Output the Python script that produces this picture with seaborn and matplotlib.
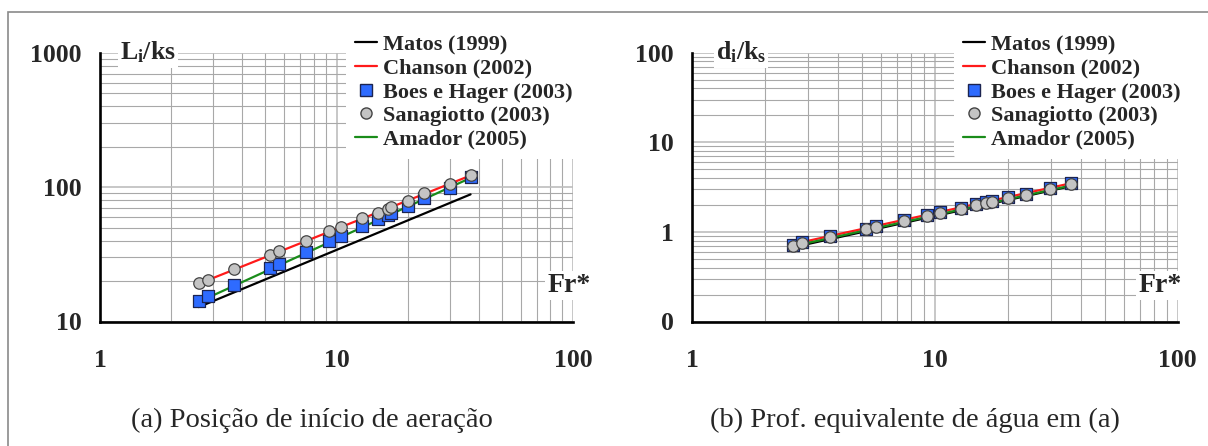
import numpy as np
import pandas as pd
import seaborn as sns
import matplotlib
matplotlib.use("Agg")
import matplotlib.pyplot as plt
from matplotlib.lines import Line2D
from matplotlib.patches import Rectangle
from matplotlib.ticker import LogLocator, FixedLocator, FixedFormatter, NullFormatter

# ---------------- data ----------------
fr = [2.61, 2.85, 3.70, 5.25, 5.72, 7.39, 9.25, 10.45, 12.8, 14.9, 16.5, 17.0, 20.1, 23.5, 30.0, 36.8]
li_boes = [14.3, 15.4, 18.8, 24.9, 26.9, 32.8, 39.6, 43.4, 51.3, 57.5, 62.3, 64.4, 72.0, 82.8, 98.9, 118.0]
li_sana = [19.2, 20.3, 24.5, 31.0, 33.2, 39.9, 46.8, 50.7, 58.5, 64.5, 69.0, 71.0, 79.4, 89.7, 105.0, 122.0]

matos_li_x = [2.61, 36.8]
matos_li_y = [12.8, 88.3]
chanson_li_x = [2.85, 36.8]
chanson_li_y = [20.3, 122.0]
amador_li_x = [2.85, 36.8]
amador_li_y = [15.0, 117.0]

fr_b = [2.61, 2.84, 3.70, 5.21, 5.70, 7.42, 9.25, 10.5, 12.8, 14.8, 16.3, 17.1, 19.9, 23.6, 29.9, 36.5]
di_boes = [0.72, 0.77, 0.89, 1.09, 1.15, 1.36, 1.53, 1.66, 1.86, 2.04, 2.15, 2.20, 2.43, 2.66, 3.08, 3.48]
di_sana = [0.70, 0.75, 0.87, 1.07, 1.13, 1.33, 1.50, 1.63, 1.82, 2.00, 2.11, 2.16, 2.38, 2.61, 3.02, 3.41]

matos_di_x = [2.84, 36.5]
matos_di_y = [0.71, 3.25]
chanson_di_x = [2.84, 36.5]
chanson_di_y = [0.77, 3.50]
amador_di_x = [2.84, 36.5]
amador_di_y = [0.73, 3.30]

labels = ["Matos (1999)", "Chanson (2002)", "Boes e Hager (2003)", "Sanagiotto (2003)", "Amador (2005)"]
y_ticks_b = [0.1, 1, 10, 100]
y_ticklabels_b = ["0", "1", "10", "100"]
x_ticks = [1, 10, 100]
x_ticklabels = ["1", "10", "100"]

# ---------------- style ----------------
sns.set_style("white")
plt.rcParams["font.family"] = ["Liberation Serif", "DejaVu Serif"]
plt.rcParams["mathtext.fontset"] = "custom"
plt.rcParams["mathtext.rm"] = "Liberation Serif:bold"
plt.rcParams["mathtext.it"] = "Liberation Serif:bold"
plt.rcParams["mathtext.bf"] = "Liberation Serif:bold"

W, H = 1208, 446
fig = plt.figure(figsize=(W / 100, H / 100), dpi=100)
fig.patch.set_facecolor("white")

# border
fig.add_artist(Rectangle((8.3 / W, -0.1), 1.2, 1 - 11.7 / H + 0.1, transform=fig.transFigure,
                         fill=False, edgecolor="#8a8a8a", linewidth=1.2))

ax1 = fig.add_axes([100 / W, 1 - 321.5 / H, 473.3 / W, 268.8 / H])
ax2 = fig.add_axes([692.3 / W, 1 - 321.5 / H, 485.4 / W, 268.8 / H])

BLUE = "#2e6bff"
GRAY = "#c4c4c4"
c_red = "#ff1a1a"
c_green = "#1a8c1a"


def draw(ax, lx, ly, cx, cy, ax_, ay, frx, sq, ci):
    sns.lineplot(x=lx, y=ly, ax=ax, color="black", lw=1.6, zorder=3)
    sns.lineplot(x=cx, y=cy, ax=ax, color=c_red, lw=1.6, zorder=3)
    sns.lineplot(x=ax_, y=ay, ax=ax, color=c_green, lw=1.6, zorder=3)
    sns.scatterplot(x=frx, y=sq, ax=ax, marker="s", s=68, color=BLUE,
                    edgecolor="#1c2450", linewidth=0.9, zorder=4)
    sns.scatterplot(x=frx, y=ci, ax=ax, marker="o", s=68, color=GRAY,
                    edgecolor="#444444", linewidth=0.9, zorder=5)


draw(ax1, matos_li_x, matos_li_y, chanson_li_x, chanson_li_y, amador_li_x, amador_li_y,
     fr, li_boes, li_sana)
draw(ax2, matos_di_x, matos_di_y, chanson_di_x, chanson_di_y, amador_di_x, amador_di_y,
     fr_b, di_boes, di_sana)

for ax, ylim in ((ax1, (10, 1000)), (ax2, (0.1, 100))):
    ax.set_xscale("log")
    ax.set_yscale("log")
    ax.set_xlim(1, 100)
    ax.set_ylim(*ylim)
    ax.set_xlabel("")
    ax.set_ylabel("")
    for s in ("top", "right"):
        ax.spines[s].set_visible(False)
    for s in ("left", "bottom"):
        ax.spines[s].set_linewidth(1.9)
        ax.spines[s].set_color("black")
    ax.xaxis.set_major_locator(FixedLocator(x_ticks))
    ax.xaxis.set_major_formatter(FixedFormatter(x_ticklabels))
    ax.xaxis.set_minor_locator(LogLocator(base=10, subs=np.arange(2, 10)))
    ax.xaxis.set_minor_formatter(NullFormatter())
    ax.yaxis.set_minor_locator(LogLocator(base=10, subs=np.arange(2, 10)))
    ax.yaxis.set_minor_formatter(NullFormatter())
    ax.tick_params(which="major", direction="inout", length=13, width=1.6, color="black",
                   labelsize=18.5)
    ax.tick_params(axis="x", which="major", pad=13)
    ax.tick_params(axis="y", which="major", pad=7)
    ax.tick_params(which="minor", direction="in", length=5, width=1.2, color="black")
    ax.grid(True, which="minor", color="#a8a8a8", linewidth=0.8)
    ax.grid(True, which="major", color="#bdbdbd", linewidth=1.2)
    ax.set_axisbelow(True)
    ax.set_facecolor("none")

ax1.yaxis.set_major_locator(FixedLocator([10, 100, 1000]))
ax1.yaxis.set_major_formatter(FixedFormatter(["10", "100", "1000"]))
ax2.yaxis.set_major_locator(FixedLocator(y_ticks_b))
ax2.yaxis.set_major_formatter(FixedFormatter(y_ticklabels_b))
for ax in (ax1, ax2):
    for lab in ax.get_xticklabels() + ax.get_yticklabels():
        lab.set_fontweight("bold")

# axis titles inside
bb = dict(facecolor="white", edgecolor="none", pad=1.5)
ax1.text(0.043, 1.0, r"L$_\mathregular{i}$/ks", transform=ax1.transAxes, fontsize=18.5,
         fontweight="bold", ha="left", va="center", bbox=bb, zorder=6)
ax2.text(0.048, 1.0, r"d$_\mathregular{i}$/k$_\mathregular{s}$", transform=ax2.transAxes, fontsize=18.5,
         fontweight="bold", ha="left", va="center", bbox=bb, zorder=6)
ax1.text(1.036, 0.135, "Fr*", transform=ax1.transAxes, fontsize=20, fontweight="bold",
         ha="right", va="center", bbox=bb, zorder=6)
ax2.text(1.008, 0.135, "Fr*", transform=ax2.transAxes, fontsize=20, fontweight="bold",
         ha="right", va="center", bbox=bb, zorder=6)

# legends
handles = [
    Line2D([], [], color="black", lw=1.6),
    Line2D([], [], color=c_red, lw=1.6),
    Line2D([], [], marker="s", ls="none", markersize=8, markerfacecolor=BLUE, markeredgecolor="#1c2450"),
    Line2D([], [], marker="o", ls="none", markersize=8, markerfacecolor=GRAY, markeredgecolor="#444444"),
    Line2D([], [], color=c_green, lw=1.6),
]
for ax, x0 in ((ax1, (346 - 100) / 473.3), (ax2, (954 - 692.3) / 485.4)):
    leg = ax.legend(handles, labels, loc="upper left", bbox_to_anchor=(x0, 1.10),
                    frameon=True, facecolor="white", edgecolor="none", framealpha=1,
                    prop={"family": "Liberation Serif", "weight": "bold", "size": 16},
                    handlelength=1.0, handletextpad=0.25, labelspacing=0.14,
                    borderpad=0.4, borderaxespad=0)
    leg.set_zorder(7)

fig.text(312 / W, 1 - 420 / H, "(a) Posição de início de aeração", fontsize=20.5,
         ha="center", va="center")
fig.text(915 / W, 1 - 420 / H, "(b) Prof. equivalente de água em (a)", fontsize=20.5,
         ha="center", va="center")

fig.savefig("out.png", dpi=100, facecolor="white")
